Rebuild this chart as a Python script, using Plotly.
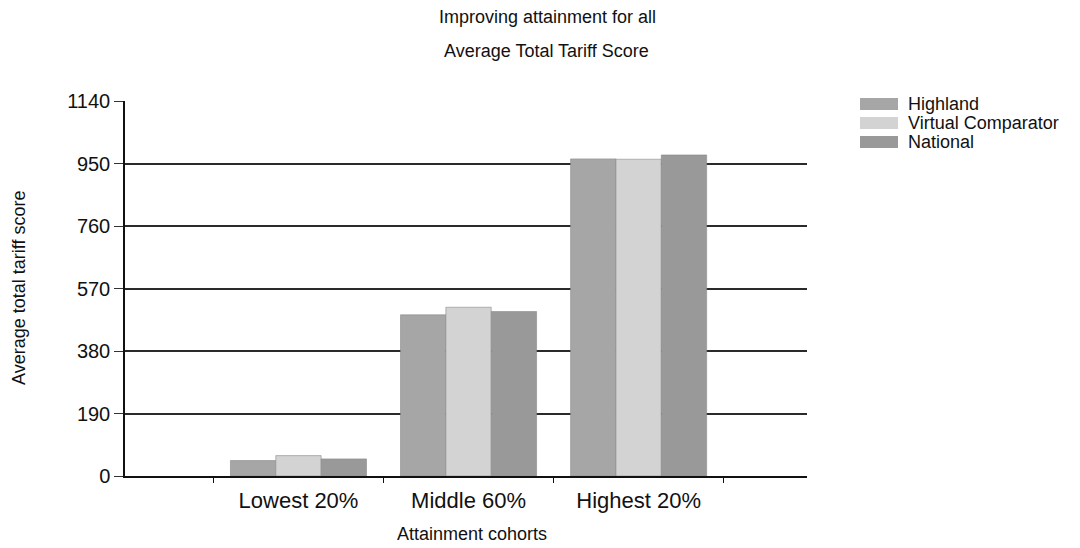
import plotly.graph_objects as go

# Attainment cohorts and average total tariff score per comparison group
cohorts = ["Lowest 20%", "Middle 60%", "Highest 20%"]
series_names = ["Highland", "Virtual Comparator", "National"]
highland = [47, 490, 964]
virtual_comparator = [62, 513, 963]
national = [52, 500, 976]
y_ticks = [0, 190, 380, 570, 760, 950, 1140]

series_values = [highland, virtual_comparator, national]
colors = ["#a6a6a6", "#d3d3d3", "#999999"]

FONT = "Liberation Sans, Arial, sans-serif"

fig = go.Figure()
for name, vals, col in zip(series_names, series_values, colors):
    fig.add_trace(go.Bar(
        x=cohorts, y=vals, name=name,
        marker=dict(color=col, line=dict(color="#8a8a8a", width=0.6)),
        showlegend=False,
    ))

W, H = 1080, 548
L, R, T, B = 125, 273, 101, 72
pw, ph = W - L - R, H - T - B


def px_x(p):
    return (p - L) / pw


def px_y(p):
    return (H - B - p) / ph


annotations = [
    dict(text="Improving attainment for all", x=px_x(547), y=px_y(17),
         xref="paper", yref="paper", showarrow=False,
         xanchor="center", yanchor="middle", font=dict(size=18, color="#111")),
    dict(text="Average Total Tariff Score", x=px_x(546), y=px_y(51),
         xref="paper", yref="paper", showarrow=False,
         xanchor="center", yanchor="middle", font=dict(size=18, color="#111")),
    dict(text="Attainment cohorts", x=px_x(472), y=px_y(534),
         xref="paper", yref="paper", showarrow=False,
         xanchor="center", yanchor="middle", font=dict(size=18, color="#111")),
    dict(text="Average total tariff score", x=px_x(19), y=px_y(288),
         xref="paper", yref="paper", showarrow=False, textangle=-90,
         xanchor="center", yanchor="middle", font=dict(size=18, color="#111")),
]

# Legend drawn as swatches plus labels to the right of the plot
shapes = []
for i, (name, col) in enumerate(zip(series_names, colors)):
    cy = 104 + 19 * i
    shapes.append(dict(type="rect", xref="paper", yref="paper",
                       x0=px_x(860), x1=px_x(898),
                       y0=px_y(cy + 6), y1=px_y(cy - 6),
                       fillcolor=col, line=dict(width=0)))
    annotations.append(dict(text=name, x=px_x(906), y=px_y(cy),
                            xref="paper", yref="paper", showarrow=False,
                            xanchor="left", yanchor="middle",
                            font=dict(size=18, color="#111")))

fig.update_layout(
    width=W, height=H,
    margin=dict(l=L, r=R, t=T, b=B, pad=0),
    paper_bgcolor="white", plot_bgcolor="white",
    font=dict(family=FONT, color="#111"),
    barmode="group", bargap=0.2, bargroupgap=0,
    annotations=annotations, shapes=shapes,
    showlegend=False,
)

fig.update_xaxes(
    type="category", range=[-1.02, 2.99],
    showline=True, linecolor="#111", linewidth=1.5,
    showgrid=False, ticks="outside", tickson="boundaries",
    ticklen=5, tickcolor="#111", tickwidth=1.2,
    tickfont=dict(size=22, color="#111"), ticklabelstandoff=4,
)

fig.update_yaxes(
    range=[0, 1140], tickvals=y_ticks, ticktext=[str(v) for v in y_ticks],
    showline=True, linecolor="#111", linewidth=1.5,
    showgrid=True, gridcolor="#2a2a2a", gridwidth=1.5,
    ticks="outside", ticklen=9, tickcolor="#333", tickwidth=1.2,
    tickfont=dict(size=20, color="#111"), zeroline=False,
)

fig.write_html("out.html")
